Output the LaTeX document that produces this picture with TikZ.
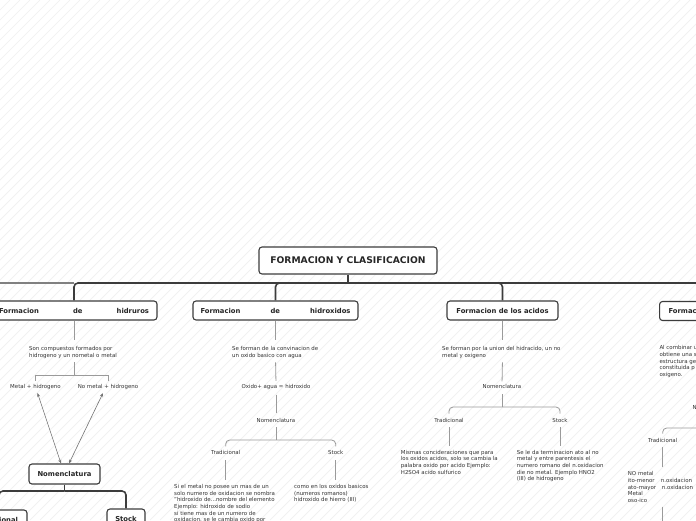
\documentclass[tikz,border=0pt]{standalone}
\usepackage{fontspec}
\setmainfont{DejaVu Sans}
\usetikzlibrary{arrows.meta}
\definecolor{trunkc}{HTML}{3C3C3C}
\definecolor{twigc}{HTML}{9A9A9A}
\definecolor{txtc}{HTML}{333333}
\definecolor{hatchc}{HTML}{F0F0F0}
\begin{document}
\begin{tikzpicture}[x=1pt,y=-1pt,
  mainbox/.style={draw=trunkc, line width=1.1pt, rounded corners=3pt, fill=white,
    font=\bfseries\fontsize{6.8}{7.5}\selectfont, text=black!85, inner sep=0pt, minimum height=19pt},
  titlebox/.style={mainbox, font=\bfseries\fontsize{9.2}{11}\selectfont, minimum height=27pt},
  smalltxt/.style={font=\fontsize{5.45}{6.7}\selectfont, text=txtc, inner sep=0pt},
  paratxt/.style={smalltxt, align=left, anchor=north west},
  trunk/.style={draw=trunkc, line width=1.6pt, rounded corners=4pt},
  twig/.style={draw=twigc, line width=0.8pt},
  bracket/.style={twig, rounded corners=4pt},
  dbl/.style={draw=black!55, line width=0.6pt, {Stealth[length=4pt,width=3pt]}-{Stealth[length=4pt,width=3pt]}}]
\useasboundingbox (0,0) rectangle (696,520);
\clip (0,0) rectangle (696,520);
\fill[white] (0,0) rectangle (696,520);
\foreach \i in {-520,-510,...,700} \draw[hatchc, line width=0.7pt] (\i,520) -- (\i+520,0);

% top level
\node[titlebox, minimum width=178pt] (title) at (348,260.5) {FORMACION Y CLASIFICACION};
\node[mainbox, minimum width=166pt] (b1) at (74,310.5) {\makebox[150pt]{Formacion\hfill de\hfill hidruros}};
\node[mainbox, minimum width=165pt] (b2) at (275.5,310.5) {\makebox[150pt]{Formacion\hfill de\hfill hidroxidos}};
\node[mainbox, minimum width=111pt] (b3) at (502.5,310.5) {Formacion de los acidos};
\node[mainbox, minimum width=106pt, anchor=west] (b4) at (659,311) {\makebox[88pt][l]{Formac}};

\coordinate (j) at (348,283);
\coordinate (w) at (-40,283);
\draw[trunk, draw=trunkc!65] (j -| b1.north) -- (w);
\draw[trunk] (title.south) -- (j);
\draw[trunk] (j) -- (j -| b1.north) -- (b1.north);
\draw[trunk] (j) -- (j -| b2.north) -- (b2.north);
\draw[trunk] (j) -- (j -| b3.north) -- (b3.north);
\draw[trunk] (j) -- (j -| b4.north) -- (b4.north);

% descriptions
\node[paratxt] (d1) at (29,346) {Son compuestos formados por\\hidrogeno y un nometal o metal};
\node[paratxt] (d2) at (232,346) {Se forman de la convinacion de\\un oxido basico con agua};
\node[paratxt] (d3) at (442,346) {Se forman por la union del hidracido, un no\\metal y oxigeno};
\node[paratxt] (d4) at (659.3,345.5) {Al combinar u\\obtiene una s\\estructura ge\\constituida p\\oxigeno.};
\draw[twig, shorten >=6pt] (b1.south) -- (b1.south |- d1.north);
\draw[twig, shorten >=6pt] (b2.south) -- (b2.south |- d2.north);
\draw[twig, shorten >=6pt] (b3.south) -- (b3.south |- d3.north);
\draw[twig, shorten >=6pt] (b4.south) -- (b4.south |- d4.north);

% column 1
\coordinate (k1) at (74,375);
\node[smalltxt] (m1) at (35.5,386.7) {Metal + hidrogeno};
\node[smalltxt] (nm1) at (108,386.7) {No metal + hidrogeno};
\draw[twig, shorten <=4pt] (b1.south |- d1.south) -- (k1);
\draw[twig] ([yshift=3pt]m1.north) -- (m1.north |- k1) -- (nm1.north |- k1) -- ([yshift=3pt]nm1.north);
\node[mainbox, minimum width=71pt, minimum height=20pt] (nom1) at (64.5,474) {Nomenclatura};
\draw[dbl] ([xshift=2pt,yshift=-3.5pt]m1.south) -- ([xshift=-3.5pt]nom1.north);
\draw[dbl] ([xshift=-5pt,yshift=-3.5pt]nm1.south) -- ([xshift=4.5pt]nom1.north);
\node[mainbox, minimum width=56pt, minimum height=20pt] (tr1) at (-1,520) {\makebox[38pt][r]{ional}};
\node[mainbox, minimum width=38pt, minimum height=20pt] (st1) at (126,519) {Stock};
\coordinate (k2) at (64.5,491);
\draw[trunk] (nom1.south) -- (k2);
\draw[trunk] (k2) -- (k2 -| st1.north) -- (st1.north);
\draw[trunk] (k2) -- (k2 -| tr1.north) -- (tr1.north);

% column 2
\node[smalltxt] (f2) at (276,386.7) {Oxido+ agua = hidroxido};
\draw[twig, shorten <=4pt, shorten >=3pt] (b2.south |- d2.south) -- (f2.north);
\node[smalltxt] (n2) at (276,420) {Nomenclatura};
\draw[twig, shorten <=5pt, shorten >=5pt] (f2.south) -- (n2.north);
\coordinate (k3) at (276,440);
\draw[twig, shorten <=5pt] (n2.south) -- (k3);
\node[smalltxt] (t2) at (225.7,452.7) {Tradicional};
\node[smalltxt] (s2) at (335.7,452.7) {Stock};
\draw[bracket] ([yshift=4pt]t2.north) -- (t2.north |- k3) -- (s2.north |- k3) -- ([yshift=4pt]s2.north);
\node[paratxt] (tt2) at (174,484) {Si el metal no posee un mas de un\\solo numero de oxidacion se nombra\\"hidroxido de...nombre del elemento\\Ejemplo: hidroxido de sodio\\si tiene mas de un numero de\\oxidacion, se le cambia oxido por};
\node[paratxt] (ss2) at (294,484) {como en los oxidos basicos\\(numeros romanos)\\hidroxido de hierro (III)};
\draw[twig, shorten <=5pt, shorten >=4pt] (t2.south) -- (t2.south |- tt2.north);
\draw[twig, shorten <=5pt, shorten >=4pt] (s2.south) -- (s2.south |- ss2.north);

% column 3
\node[smalltxt] (n3) at (502,386.7) {Nomenclatura};
\draw[twig, shorten <=4pt, shorten >=3pt] (b3.south |- d3.south) -- (n3.north);
\coordinate (k4) at (502,407);
\draw[twig, shorten <=5pt] (n3.south) -- (k4);
\node[smalltxt] (t3) at (449,420) {Tradicional};
\node[smalltxt] (s3) at (560,420) {Stock};
\draw[bracket] ([yshift=4pt]t3.north) -- (t3.north |- k4) -- (s3.north |- k4) -- ([yshift=4pt]s3.north);
\node[paratxt] (tt3) at (400.7,449.7) {Mismas concideraciones que para\\los oxidos acidos, solo se cambia la\\palabra oxido por acido Ejemplo:\\H2SO4 acido sulfurico};
\node[paratxt] (ss3) at (516.7,449.7) {Se le da terminacion ato al no\\metal y entre parentesis el\\numero romano del n.oxidacion\\die no metal. Ejemplo HNO2\\(III) de hidrogeno};
\draw[twig, shorten <=5pt, shorten >=4pt] (t3.south) -- (t3.south |- tt3.north);
\draw[twig, shorten <=5pt, shorten >=4pt] (s3.south) -- (s3.south |- ss3.north);

% column 4
\node[smalltxt, anchor=west] (n4) at (692.3,407.7) {N};
\coordinate (k5) at (712,428);
\coordinate (r5) at (730,428);
\draw[twig, shorten <=4pt] (b4.south |- d4.south) -- (b4.south |- n4.north);
\draw[twig] (b4.south |- n4.south) -- (k5);
\node[smalltxt] (t4) at (662.7,440) {Tradicional};
\draw[bracket] ([yshift=4pt]t4.north) -- (t4.north |- k5) -- (r5);
\node[paratxt] (tt4) at (627.7,471.3) {NO metal\\\makebox[33pt][l]{ito-menor}n.oxidacion\\\makebox[34pt][l]{ato-mayor}n.oxidacion\\Metal\\oso-ico};
\draw[twig, shorten <=5pt, shorten >=4pt] (t4.south) -- (t4.south |- tt4.north);
\coordinate (e4) at (662.7,530);
\draw[twig, shorten <=4pt] (t4.south |- tt4.south) -- (e4);
\end{tikzpicture}
\end{document}
